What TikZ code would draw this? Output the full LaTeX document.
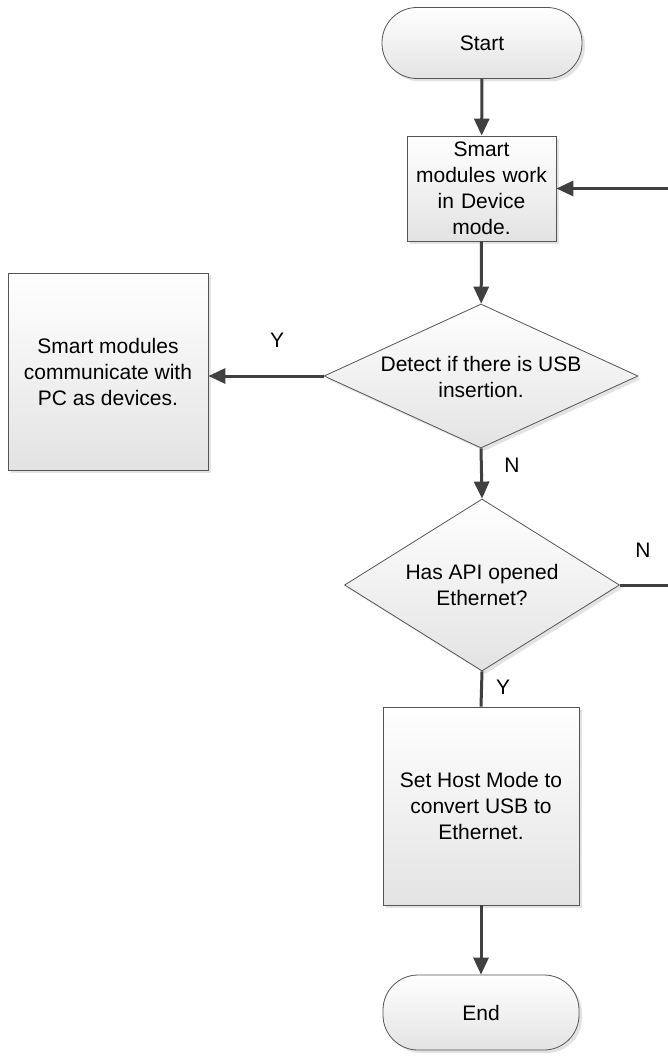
\documentclass[tikz,border=0pt]{standalone}
\usepackage{fontspec}
\setmainfont{Liberation Sans}
\usetikzlibrary{shapes.geometric,arrows.meta,shadows}
\definecolor{edge}{HTML}{555555}
\definecolor{conn}{HTML}{404040}
\tikzset{
  base/.style={draw=edge, line width=0.8pt, top color=white, bottom color=black!11,
    drop shadow={shadow xshift=3pt, shadow yshift=-3pt, fill=black!18, opacity=0.6},
    inner sep=0pt, align=center, font=\fontsize{21}{26}\selectfont},
  procbox/.style={base, rectangle},
  termbox/.style={base, rectangle, rounded corners=35pt},
  decbox/.style={base, diamond},
  txt/.style={inner sep=0pt, align=center, font=\fontsize{21}{26}\selectfont},
  lbl/.style={inner sep=0pt, font=\fontsize{21}{24}\selectfont},
  conn/.style={draw=conn, line width=3pt, -{Triangle[length=17pt,width=15pt]}},
  plain/.style={draw=conn, line width=3pt}
}
\begin{document}
\begin{tikzpicture}[x=1pt,y=-1pt]
\path[use as bounding box] (0,0) rectangle (668,1062);
\clip (0,0) rectangle (668,1062);
\fill[white] (0,0) rectangle (668,1062);
% nodes
\node[termbox, minimum width=200pt, minimum height=71pt] (start) at (482,43) {Start};
\node[procbox, minimum width=149pt, minimum height=105pt, text width=146pt] (dev) at (481.5,188.5) {Smart\\modules work\\in Device\\mode.};
\node[decbox, minimum width=314pt, minimum height=144pt] (d1) at (481,376) {};
\node[txt] (d1t) at (481,377) {Detect if there is USB\\insertion.};
\node[procbox, minimum width=200pt, minimum height=197pt] (pc) at (108,371.5) {Smart modules\\communicate with\\PC as devices.};
\node[decbox, minimum width=275pt, minimum height=172pt] (d2) at (482,585) {};
\node[txt] (d2t) at (482,585) {Has API opened\\Ethernet?};
\node[procbox, minimum width=196pt, minimum height=198pt] (host) at (481,806) {Set Host Mode to\\convert USB to\\Ethernet.};
\node[termbox, minimum width=196pt, minimum height=75pt] (end) at (481,1012.5) {End};
% labels
\node[lbl] (ly1) at (277,340) {Y};
\node[lbl] (ln1) at (512,465) {N};
\node[lbl] (ln2) at (643,550) {N};
\node[lbl] (ly2) at (503,687) {Y};
\coordinate (loop) at (676,585);
% connectors
\draw[conn] (start) -- (dev);
\draw[conn] (dev) -- (d1);
\draw[conn] (d1.west) -- (d1.west -| pc.east);
\draw[conn] (d1.south) -- (d2.north);
\draw[plain] (d2.south) -- (host.north);
\draw[conn] (host) -- (end);
\draw[conn] (d2.east) -- (loop) |- (dev.east);
\end{tikzpicture}
\end{document}
